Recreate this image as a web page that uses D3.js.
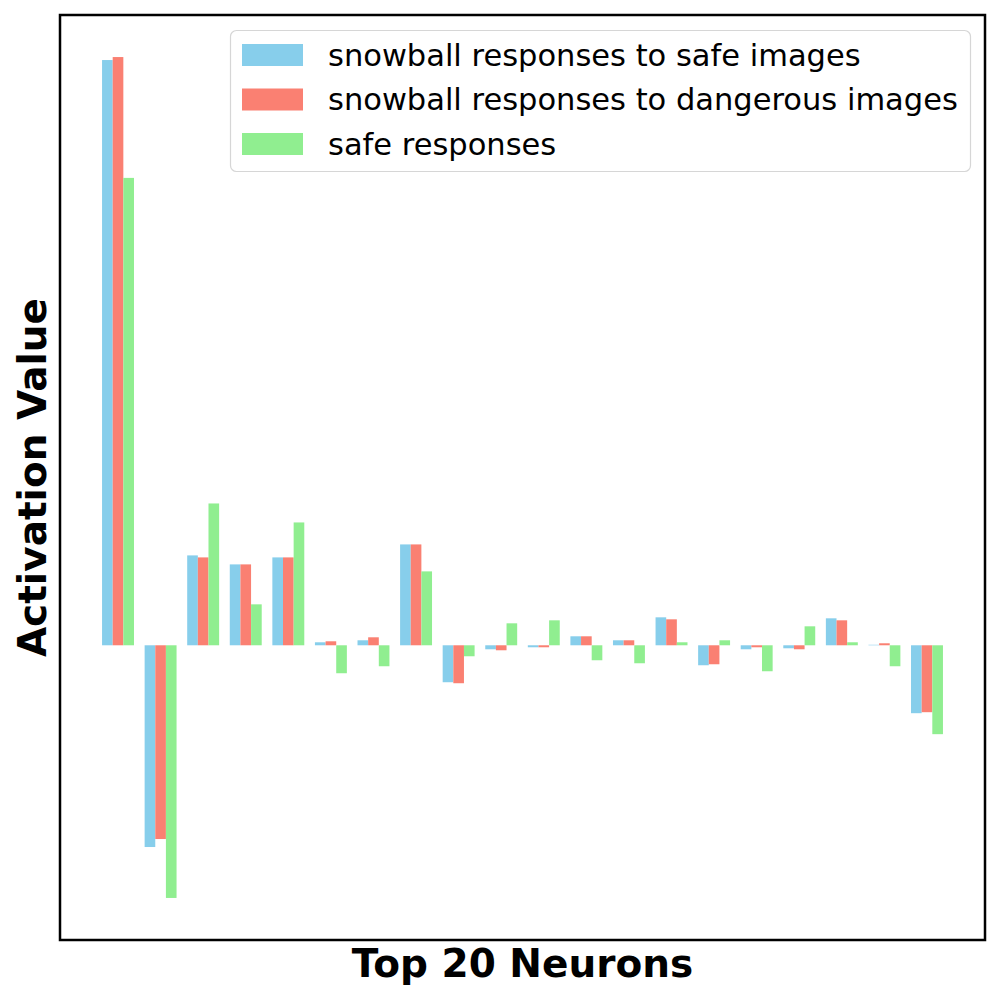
<!DOCTYPE html>
<html>
<head>
<meta charset="utf-8">
<script src="https://cdn.jsdelivr.net/npm/d3@7"></script>
<style>
  body { margin: 0; background: #fff; }
  svg { display: block; font-family: "DejaVu Sans", sans-serif; }
</style>
</head>
<body>
<div id="chart"></div>
<script>
// activation values for the top 20 neurons
const neurons = d3.range(20);
const seriesNames = [
    "snowball responses to safe images",
    "snowball responses to dangerous images",
    "safe responses"
];
const snowballSafe = [5.86, -2.02, 0.90, 0.81, 0.88, 0.03, 0.05, 1.01, -0.37, -0.04,
    -0.02, 0.09, 0.05, 0.28, -0.20, -0.04, -0.03, 0.27, 0.005, -0.68];
const snowballDanger = [5.89, -1.94, 0.88, 0.81, 0.88, 0.04, 0.08, 1.01, -0.38, -0.05,
    -0.02, 0.09, 0.05, 0.26, -0.19, -0.02, -0.04, 0.25, 0.02, -0.67];
const safeResponses = [4.68, -2.53, 1.42, 0.41, 1.23, -0.28, -0.21, 0.74, -0.11, 0.22,
    0.25, -0.15, -0.18, 0.03, 0.05, -0.26, 0.19, 0.03, -0.21, -0.89];
const colors = ["#87CEEB", "#FA8072", "#90EE90"];

const series = [snowballSafe, snowballDanger, safeResponses];

const width = 1000, height = 1000;
const margin = { top: 15, right: 15, bottom: 60, left: 60 };
const barWidth = 0.25;

const svg = d3.select("#chart")
    .append("svg")
    .attr("width", width)
    .attr("height", height);

// x limits like matplotlib: data extent plus 5% each side
const xMin = -barWidth / 2, xMax = 19 + 2 * barWidth + barWidth / 2;
const xPad = (xMax - xMin) * 0.05;
const x = d3.scaleLinear()
    .domain([xMin - xPad, xMax + xPad])
    .range([margin.left, width - margin.right]);

const allVals = series.flat().concat([0]);
const yLo = d3.min(allVals), yHi = d3.max(allVals);
const yPad = (yHi - yLo) * 0.05;
const y = d3.scaleLinear()
    .domain([yLo - yPad, yHi + yPad])
    .range([height - margin.bottom, margin.top]);

// bars
series.forEach((vals, s) => {
    svg.append("g")
        .attr("fill", colors[s])
        .selectAll("rect")
        .data(neurons)
        .join("rect")
        .attr("x", i => x(i + s * barWidth - barWidth / 2))
        .attr("width", x(barWidth) - x(0))
        .attr("y", i => y(Math.max(0, vals[i])))
        .attr("height", i => Math.abs(y(vals[i]) - y(0)));
});

// frame
svg.append("rect")
    .attr("x", margin.left)
    .attr("y", margin.top)
    .attr("width", width - margin.left - margin.right)
    .attr("height", height - margin.top - margin.bottom)
    .attr("fill", "none")
    .attr("stroke", "#000")
    .attr("stroke-width", 2.5);

// axis labels
svg.append("text")
    .attr("x", (margin.left + width - margin.right) / 2)
    .attr("y", 977)
    .attr("text-anchor", "middle")
    .attr("font-size", "39px")
    .attr("font-weight", "bold")
    .text("Top 20 Neurons");

svg.append("text")
    .attr("transform", `translate(46,${(margin.top + height - margin.bottom) / 2}) rotate(-90)`)
    .attr("text-anchor", "middle")
    .attr("font-size", "39px")
    .attr("font-weight", "bold")
    .text("Activation Value");

// legend
const legend = svg.append("g");
legend.append("rect")
    .attr("x", 230.5)
    .attr("y", 30.5)
    .attr("width", 740)
    .attr("height", 141)
    .attr("rx", 6)
    .attr("fill", "#fff")
    .attr("fill-opacity", 0.8)
    .attr("stroke", "#d6d6d6")
    .attr("stroke-width", 1.2);

const item = legend.selectAll("g.item")
    .data(seriesNames)
    .join("g")
    .attr("class", "item")
    .attr("transform", (d, i) => `translate(0, ${55 + i * 44.5})`);

item.append("rect")
    .attr("x", 242)
    .attr("y", -11)
    .attr("width", 61)
    .attr("height", 22)
    .attr("fill", (d, i) => colors[i]);

item.append("text")
    .attr("x", 328)
    .attr("y", 0)
    .attr("dy", "0.35em")
    .attr("font-size", "30.5px")
    .text(d => d);
</script>
</body>
</html>
